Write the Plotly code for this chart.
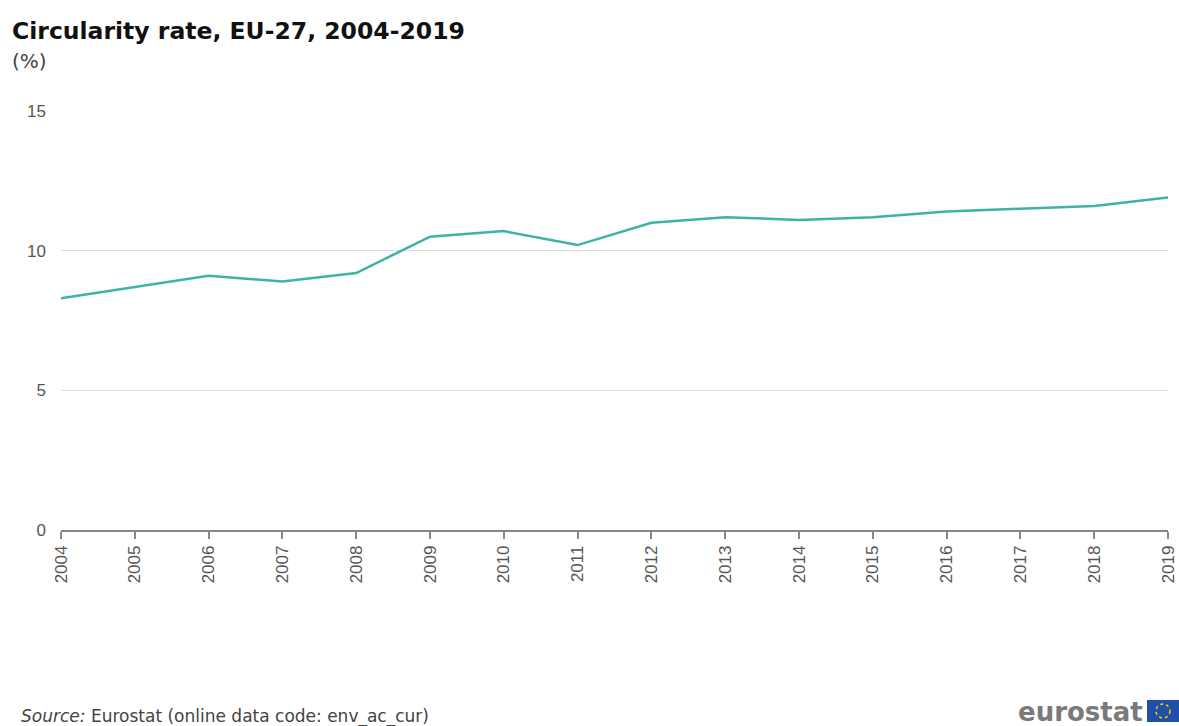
import plotly.graph_objects as go

years = list(range(2004, 2020))
rate = [8.3, 8.7, 9.1, 8.9, 9.2, 10.5, 10.7, 10.2, 11.0, 11.2, 11.1, 11.2, 11.4, 11.5, 11.6, 11.9]
y_ticks = [0, 5, 10, 15]

W, H = 1179, 726
L, R, T, B = 61, 11, 111, 196
PW, PH = W - L - R, H - T - B

WIDE = "DejaVu Sans, Verdana, sans-serif"


def px(x):
    return (x - L) / PW


def py(y):
    return (H - B - y) / PH


fig = go.Figure()
fig.add_trace(go.Scatter(
    x=years, y=rate, mode="lines",
    line=dict(color="#3db3a5", width=2.5),
    hoverinfo="x+y", showlegend=False,
))

fig.update_layout(
    width=W, height=H, autosize=False,
    margin=dict(l=L, r=R, t=T, b=B, pad=0),
    paper_bgcolor="white", plot_bgcolor="white",
    font=dict(family="Liberation Sans, Arial, sans-serif", color="#555555"),
    xaxis=dict(
        range=[2004, 2019], tickmode="array", tickvals=years,
        ticktext=[str(y) for y in years], tickangle=-90,
        showgrid=False, zeroline=False, automargin=False,
        showline=True, linecolor="#888888", linewidth=1.5,
        ticks="outside", ticklen=7, tickcolor="#888888", tickwidth=1.5,
        tickfont=dict(size=17, color="#555555"),
    ),
    yaxis=dict(
        range=[0, 15], tickmode="array", tickvals=y_ticks,
        showgrid=True, gridcolor="#dddddd", gridwidth=1,
        zeroline=False, showline=False, ticks="", automargin=False,
        tickfont=dict(size=17, color="#555555"),
        ticklabelstandoff=14,
    ),
    annotations=[
        dict(text="<b>Circularity rate, EU-27, 2004-2019</b>", x=px(10), y=py(31),
             xref="paper", yref="paper", xanchor="left", yanchor="middle",
             showarrow=False, font=dict(family=WIDE, size=23.5, color="#111111")),
        dict(text="(%)", x=px(10), y=py(61),
             xref="paper", yref="paper", xanchor="left", yanchor="middle",
             showarrow=False, font=dict(family=WIDE, size=20, color="#444444")),
        dict(text="<i>Source:</i> Eurostat (online data code: env_ac_cur)", x=px(19), y=py(716),
             xref="paper", yref="paper", xanchor="left", yanchor="middle",
             showarrow=False, font=dict(family=WIDE, size=17, color="#444444")),
        dict(text="<b>eurostat</b>", x=px(1145), y=py(712),
             xref="paper", yref="paper", xanchor="right", yanchor="middle",
             showarrow=False, font=dict(family=WIDE, size=26, color="#7a7a7a")),
    ],
    shapes=[
        dict(type="rect", xref="paper", yref="paper",
             x0=px(1147), x1=px(1179), y0=py(722), y1=py(700),
             fillcolor="#1f4fa8", line=dict(width=0)),
        dict(type="circle", xref="paper", yref="paper",
             x0=px(1156), x1=px(1170), y0=py(718), y1=py(704),
             line=dict(color="#f5d000", width=1.5, dash="dot")),
    ],
)

fig.write_html("out.html")
